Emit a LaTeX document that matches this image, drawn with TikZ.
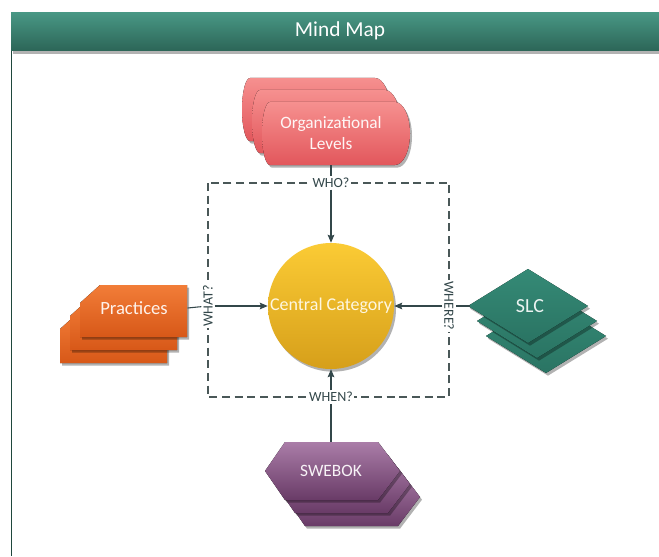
\documentclass[tikz,border=0pt]{standalone}
\usepackage{fontspec}
\setmainfont{Carlito}
\usetikzlibrary{shadows,arrows.meta}
\definecolor{hdrtop}{HTML}{489784}
\definecolor{hdrbot}{HTML}{2C6557}
\definecolor{orgtop}{HTML}{F6908F}
\definecolor{orgbot}{HTML}{E2575C}
\definecolor{prtop}{HTML}{F27D38}
\definecolor{prbot}{HTML}{D75818}
\definecolor{slctop}{HTML}{358A76}
\definecolor{slcbot}{HTML}{2A7463}
\definecolor{swtop}{HTML}{AA7DA8}
\definecolor{swbot}{HTML}{693B67}
\definecolor{cctop}{HTML}{FBCB35}
\definecolor{ccbot}{HTML}{D69F1A}
\definecolor{lineclr}{HTML}{33474A}
\definecolor{dashclr}{HTML}{4A5858}
\tikzset{
  shad/.style={drop shadow={shadow xshift=1.5pt,shadow yshift=-2pt,opacity=0.3,fill=black}},
  orgfill/.style={shad,top color=orgtop,bottom color=orgbot},
  prfill/.style={shad,top color=prtop,bottom color=prbot},
  slcfill/.style={shad,top color=slctop,bottom color=slcbot},
  swfill/.style={shad,top color=swtop,bottom color=swbot},
  txt/.style={inner sep=0pt,align=center,font=\fontsize{13}{16}\selectfont},
  lbl/.style={fill=white,inner sep=1.2pt,text=lineclr,font=\fontsize{10.5}{12}\selectfont},
  conn/.style={draw=lineclr,line width=0.8pt},
  arr/.style={conn,-{Stealth[length=6pt,width=5pt,inset=1pt]}},
}
\newcommand\drumshape[4]{\fill[orgfill] (#1,#3) -- (#2,#3) arc[start angle=-90,end angle=90,x radius=15,y radius={(#4-#3)/2}] -- (#1,#4) arc[start angle=90,end angle=270,x radius=8,y radius={(#4-#3)/2}] -- cycle;}
\newcommand\snipshape[4]{\fill[prfill] ({#1+20},#2) -- (#3,#2) -- (#3,#4) -- (#1,#4) -- (#1,{#2+18}) -- cycle;}
\newcommand\diamshape[2]{\fill[slcfill] ({#1-60},#2) -- (#1,{#2-37}) -- ({#1+60},#2) -- (#1,{#2+37}) -- cycle;}
\newcommand\hexshape[4]{\fill[swfill] ({#1+20},#2) -- ({#3-22},#2) -- (#3,{(#2+#4)/2}) -- ({#3-22},#4) -- ({#1+20},#4) -- (#1,{(#2+#4)/2}) -- cycle;}
\begin{document}
\begin{tikzpicture}[x=0.75pt,y=-0.75pt]
\useasboundingbox (0,0) rectangle (659,556);
\fill[white] (0,0) rectangle (659,556);
% header and frame
\draw[hdrbot!70!black,line width=0.7pt] (11,51) -- (11,556);
\fill[shad,top color=hdrtop,bottom color=hdrbot] (11,13) rectangle (662,51);
\node[text=white,font=\fontsize{16}{18}\selectfont] (title) at (340,31) {Mind Map};
% dashed box
\draw[dashclr,line width=0.9pt,dash pattern=on 6pt off 3.5pt] (208,183) rectangle (449,397);
% Organizational Levels
\drumshape{250}{375}{78}{141}
\drumshape{260}{385}{90}{153}
\drumshape{270}{395}{102}{165}
\node[txt,text=white!92!orgtop,minimum width=105pt,minimum height=48pt] (org) at (331,133) {Organizational\\Levels};
% Practices
\snipshape{60}{311}{167}{363}
\snipshape{70}{298}{177}{350}
\snipshape{80}{285}{187}{337}
\node[txt,text=white!90!prtop,font=\fontsize{14}{16}\selectfont,minimum width=80pt,minimum height=30pt] (prac) at (134,308) {Practices};
% SLC
\diamshape{546}{336}
\diamshape{537}{321}
\diamshape{528}{306}
\node[txt,text=white!90!slctop,font=\fontsize{15}{17}\selectfont,minimum width=90pt,minimum height=20pt] (slc) at (530,306) {SLC};
% SWEBOK
\hexshape{285}{468}{420}{526}
\hexshape{275}{455}{410}{513}
\hexshape{265}{442}{400}{500}
\node[txt,text=white!90!swtop,minimum width=60pt,minimum height=43.5pt] (swe) at (331,471) {SWEBOK};
% central circle
\node[circle,shad,top color=cctop,bottom color=ccbot,minimum size=94.5pt,inner sep=0pt,text=white!85!cctop,font=\fontsize{13.5}{15}\selectfont] (center) at (331,306) {Central Category};
% labels
\node[lbl] (who) at (331,183) {WHO?};
\node[lbl] (when) at (331,397) {WHEN?};
\node[lbl,rotate=90] (what) at (208,306) {WHAT?};
\node[lbl,rotate=-90] (where) at (449,306) {WHERE?};
% connectors
\draw[conn] (org.south) -- (who);
\draw[arr] (who) -- (center);
\draw[conn] (prac.east) -- (what);
\draw[arr] (what) -- (center);
\draw[conn] (slc.west) -- (where);
\draw[arr] (where) -- (center);
\draw[conn] (swe.north) -- (when);
\draw[arr] (when) -- (center);
\end{tikzpicture}
\end{document}
